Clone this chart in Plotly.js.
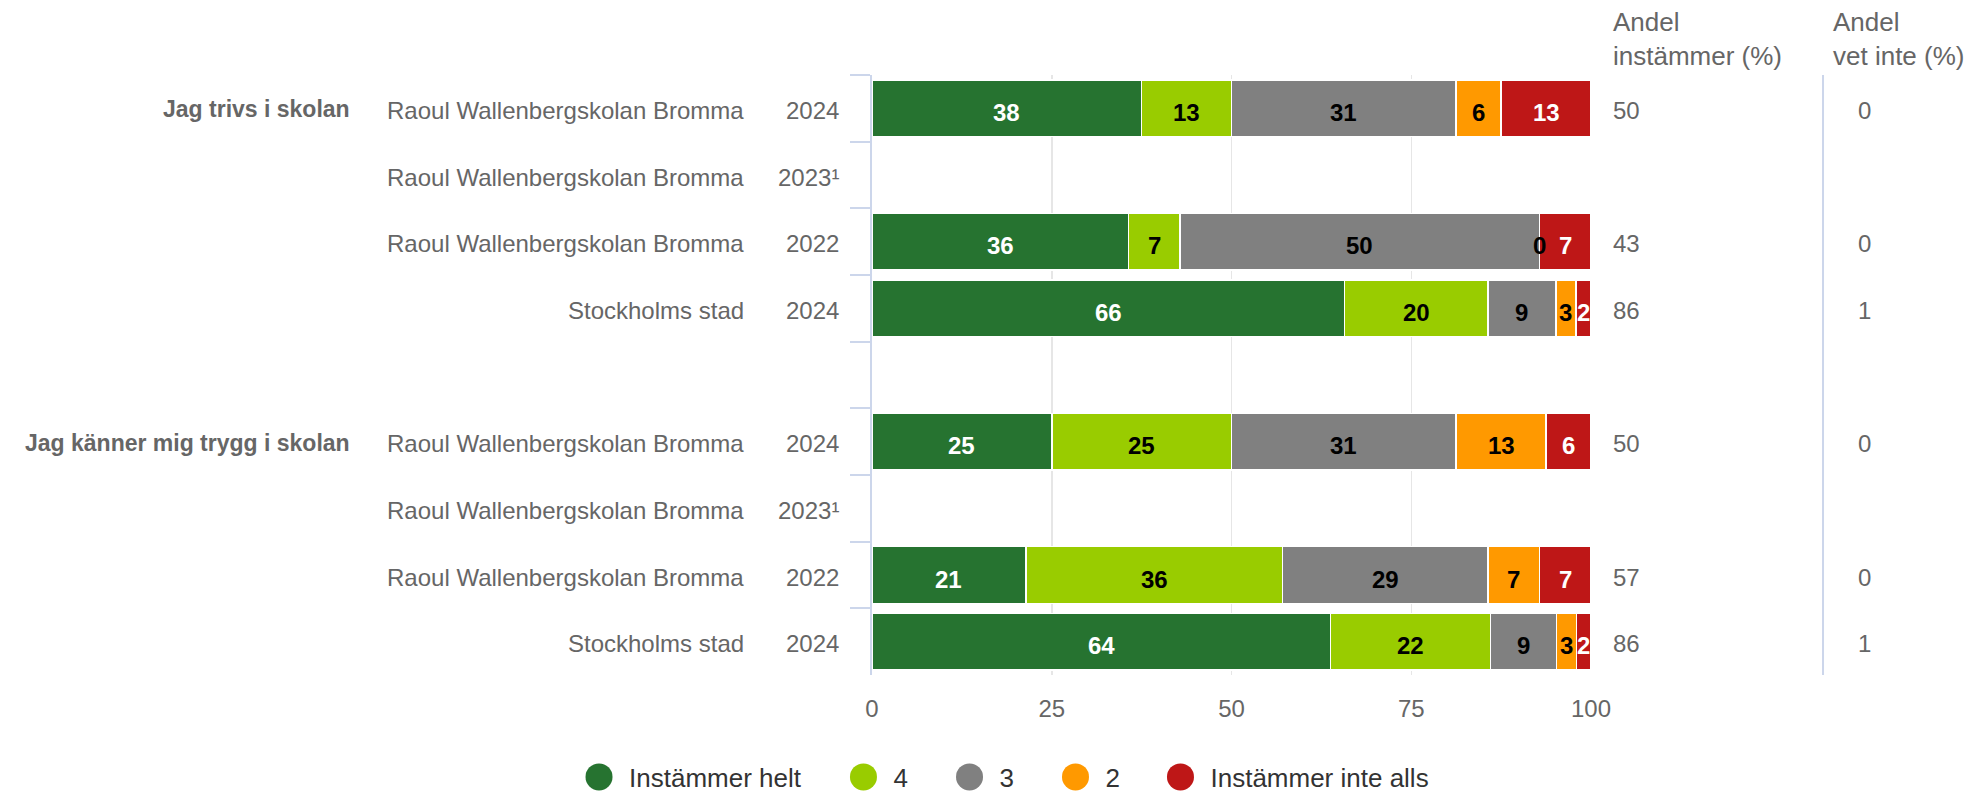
<!DOCTYPE html>
<html>
<head>
<meta charset="utf-8">
<script src="https://cdn.plot.ly/plotly-3.0.1.min.js"></script>
<style>
  html, body { margin: 0; padding: 0; background: #fff; }
  #chart { width: 1973px; height: 792px; }
</style>
</head>
<body>
<div id="chart"></div>
<script>
// ---------- DATA ----------
const questions = ["Jag trivs i skolan", "Jag känner mig trygg i skolan"];
const units = ["Raoul Wallenbergskolan Bromma", "Raoul Wallenbergskolan Bromma", "Raoul Wallenbergskolan Bromma", "Stockholms stad"];
const years = ["2024", "2023¹", "2022", "2024"];
const seriesNames = ["Instämmer helt", "4", "3", "2", "Instämmer inte alls"];
const seriesColors = ["#267330", "#99cc00", "#808080", "#ff9900", "#be1717"];
const labelColors = ["#ffffff", "#000000", "#000000", "#000000", "#ffffff"];

// percentages per question (rows: 2024, 2023¹, 2022, Stockholms stad 2024)
const instammerHelt = [[37.5, null, 35.7, 65.7], [25, null, 21.4, 63.8]];
const fyra          = [[12.5, null, 7.14, 20.0], [25, null, 35.7, 22.2]];
const tre           = [[31.25, null, 50, 9.4], [31.25, null, 28.6, 9.2]];
const tva           = [[6.25, null, 0, 2.8], [12.5, null, 7.14, 2.8]];
const inteAlls      = [[12.5, null, 7.14, 2.1], [6.25, null, 7.14, 2.0]];
const andelInstammer = [[50, null, 43, 86], [50, null, 57, 86]];
const andelVetInte   = [[0, null, 0, 1], [0, null, 0, 1]];
const colHeaders = ["Andel<br>instämmer (%)", "Andel<br>vet inte (%)"];
const xTicks = [0, 25, 50, 75, 100];

// ---------- BUILD ----------
const series = [instammerHelt, fyra, tre, tva, inteAlls];
const rowIds = [];
questions.forEach((q, qi) => {
  if (qi > 0) rowIds.push("gap" + qi);
  years.forEach((yr, ri) => rowIds.push("q" + qi + "r" + ri));
});

const FONT = "Liberation Sans, Arial, Helvetica, sans-serif";
const traces = [];
const annotations = [];

// stacked bars
series.forEach((s, si) => {
  const xs = [], ys = [];
  questions.forEach((q, qi) => {
    s[qi].forEach((v, ri) => { xs.push(v); ys.push("q" + qi + "r" + ri); });
  });
  traces.push({
    type: "bar", orientation: "h", x: xs, y: ys, name: seriesNames[si],
    marker: { color: seriesColors[si], line: { color: "#ffffff", width: 1.5 } },
    showlegend: false, hoverinfo: "skip"
  });
});

// data labels centred on each segment
series.forEach((s, si) => {
  questions.forEach((q, qi) => {
    s[qi].forEach((v, ri) => {
      if (v === null) return;
      let start = 0;
      for (let k = 0; k < si; k++) start += series[k][qi][ri];
      annotations.push({
        xref: "x", yref: "y", x: start + v / 2, y: "q" + qi + "r" + ri,
        xanchor: "center", yanchor: "middle", yshift: -4,
        text: "<b>" + Math.round(v) + "</b>", showarrow: false, borderpad: 0, borderwidth: 0,
        font: { family: FONT, size: 24, color: labelColors[si] }
      });
    });
  });
});

// legend entries (one legend per entry)
const legendX = [-0.4214, -0.0536, 0.0939, 0.2413, 0.3873];
seriesNames.forEach((n, si) => {
  traces.push({
    type: "scatter", mode: "markers", x: [null], y: [null], name: n,
    marker: { color: seriesColors[si], size: 16, symbol: "circle" },
    legend: si === 0 ? "legend" : "legend" + (si + 1),
    showlegend: true, hoverinfo: "skip"
  });
});

// row labels and side columns
questions.forEach((q, qi) => {
  annotations.push({
    xref: "paper", yref: "y", x: -0.7260, y: "q" + qi + "r0", xanchor: "right", yanchor: "middle", yshift: -1,
    text: "<b>" + q + "</b>", showarrow: false, borderpad: 0, borderwidth: 0,
    font: { family: FONT, size: 23, color: "#666666" }
  });
  years.forEach((yr, ri) => {
    const id = "q" + qi + "r" + ri;
    annotations.push({
      xref: "paper", yref: "y", x: -0.1787, y: id, xanchor: "right", yanchor: "middle", yshift: -2,
      text: units[ri], showarrow: false, borderpad: 0, borderwidth: 0,
      font: { family: FONT, size: 24, color: "#666666" }
    });
    annotations.push({
      xref: "paper", yref: "y", x: -0.0459, y: id, xanchor: "right", yanchor: "middle", yshift: -2,
      text: yr, showarrow: false, borderpad: 0, borderwidth: 0,
      font: { family: FONT, size: 24, color: "#666666" }
    });
    if (andelInstammer[qi][ri] !== null) {
      annotations.push({
        xref: "paper", yref: "y", x: 1.0306, y: id, xanchor: "left", yanchor: "middle", yshift: -2,
        text: String(andelInstammer[qi][ri]), showarrow: false, borderpad: 0, borderwidth: 0,
        font: { family: FONT, size: 24, color: "#666666" }
      });
    }
    if (andelVetInte[qi][ri] !== null) {
      annotations.push({
        xref: "paper", yref: "y", x: 1.3713, y: id, xanchor: "left", yanchor: "middle", yshift: -2,
        text: String(andelVetInte[qi][ri]), showarrow: false, borderpad: 0, borderwidth: 0,
        font: { family: FONT, size: 24, color: "#666666" }
      });
    }
  });
});
[1.0306, 1.3366].forEach((x, i) => {
  annotations.push({
    xref: "paper", yref: "paper", x: x, y: 1.0625, xanchor: "left", yanchor: "middle", align: "left", yshift: -1,
    text: colHeaders[i], showarrow: false, borderpad: 0, borderwidth: 0,
    font: { family: FONT, size: 26, color: "#666666" }
  });
});

const layout = {
  width: 1973, height: 792,
  margin: { l: 872, r: 382, t: 75, b: 117, pad: 0, autoexpand: false },
  paper_bgcolor: "#ffffff", plot_bgcolor: "#ffffff",
  font: { family: FONT, color: "#666666", size: 24 },
  barmode: "stack", bargap: 0.15,
  xaxis: {
    range: [0, 100], tickvals: xTicks, ticktext: xTicks.map(String),
    showgrid: true, gridcolor: "#e6e6e6", gridwidth: 1.5, zeroline: false, showline: false,
    ticks: "", ticklabelstandoff: 17, tickfont: { size: 24, color: "#666666" }, fixedrange: true,
    automargin: false
  },
  yaxis: {
    type: "category", categoryarray: rowIds, categoryorder: "array", range: [8.5, -0.5],
    showgrid: false, zeroline: false, showline: true, linecolor: "#ccd6eb", linewidth: 2,
    ticks: "outside", tickson: "boundaries", ticklen: 20, tickwidth: 2, tickcolor: "#ccd6eb",
    showticklabels: false, fixedrange: true, automargin: false
  },
  shapes: [{
    type: "line", xref: "paper", yref: "paper", x0: 1.3227, x1: 1.3227, y0: 0, y1: 1,
    line: { color: "#ccd6eb", width: 2 }
  }],
  annotations: annotations,
  showlegend: true
};
legendX.forEach((x, i) => {
  const key = i === 0 ? "legend" : "legend" + (i + 1);
  layout[key] = {
    x: x, xanchor: "left", y: -0.17, yanchor: "middle", orientation: "h",
    itemwidth: 50, bgcolor: "rgba(0,0,0,0)", borderwidth: 0,
    font: { family: FONT, size: 26, color: "#333333" },
    itemclick: false, itemdoubleclick: false
  };
});

Plotly.newPlot("chart", traces, layout, { staticPlot: true, displayModeBar: false }).then(() => {
  // enlarge the legend circles to match the reference symbol size
  document.querySelectorAll("g.legendpoints path.scatterpts").forEach(p => {
    const t = p.getAttribute("transform") || "";
    p.setAttribute("transform", t + " scale(1.6875)");
  });
});
</script>
</body>
</html>
